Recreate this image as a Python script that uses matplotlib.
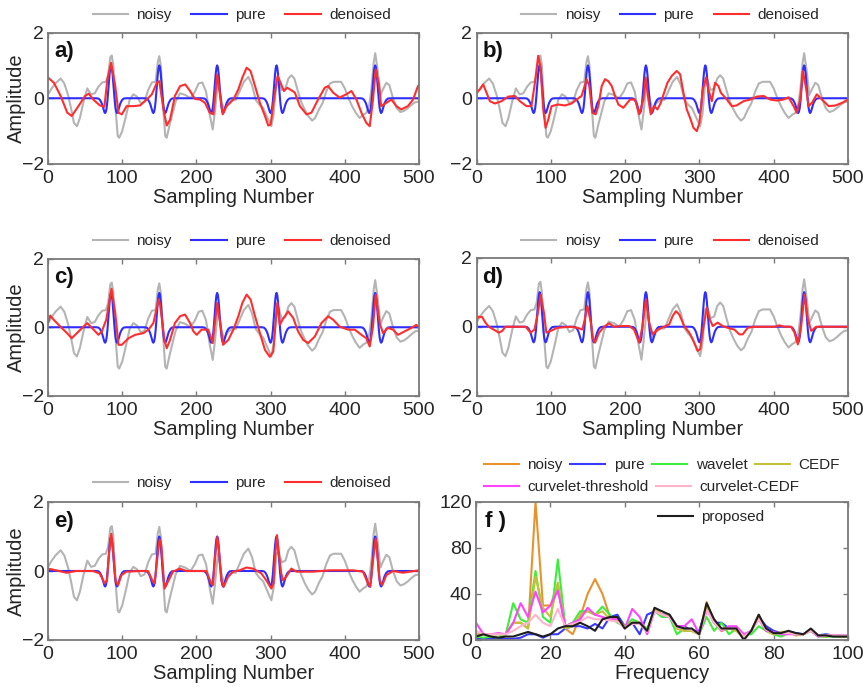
import matplotlib.pyplot as plt
import numpy as np

plt.rcParams['font.family'] = ['Liberation Sans', 'DejaVu Sans']

# ---- time-domain data (sample number, amplitude) ----
noisy = [(0, 0.12), (5, 0.3), (10, 0.45), (17, 0.6), (22, 0.45), (27, 0.1), (31, -0.3),
         (35, -0.75), (39, -0.85), (43, -0.6), (48, -0.1), (53, 0.3), (58, 0.12), (63, 0.15),
         (68, 0.35), (73, 0.48), (78, 0.5), (81, 0.7), (84, 1.25), (86, 1.3), (88, 1.0),
         (91, -0.3), (94, -1.15), (96, -1.2), (100, -1.0), (105, -0.55), (110, -0.05),
         (115, 0.12), (120, 0.05), (125, -0.15), (130, -0.1), (135, 0.25), (140, 0.48),
         (145, 0.5), (148, 1.1), (150, 1.28), (152, 1.0), (155, -0.2), (158, -1.15),
         (160, -1.2), (164, -0.8), (168, -0.45), (172, -0.1), (178, 0.15), (185, 0.1),
         (192, 0.0), (198, 0.2), (203, 0.45), (208, 0.48), (213, 0.2), (218, -0.5),
         (222, -0.95), (225, -0.4), (229, 0.5), (233, 0.0), (237, -0.35), (242, -0.15),
         (248, -0.05), (253, -0.05), (258, 0.2), (264, 0.5), (270, 0.65), (275, 0.4),
         (280, -0.05), (285, -0.2), (290, -0.3), (295, -0.55), (301, -0.85), (304, -0.5),
         (308, 0.5), (311, 0.55), (315, 0.25), (320, 0.3), (324, 0.6), (328, 0.7),
         (332, 0.6), (337, 0.2), (341, -0.1), (346, -0.35), (351, -0.55), (356, -0.68),
         (360, -0.6), (365, -0.35), (370, -0.15), (375, 0.2), (380, 0.45), (385, 0.5),
         (390, 0.5), (395, 0.5), (400, 0.3), (405, 0.0), (410, -0.25), (415, -0.45),
         (420, -0.6), (425, -0.5), (429, -0.45), (433, -0.2), (436, 0.3), (439, 1.1),
         (441, 1.37), (444, 0.9), (448, 0.1), (452, 0.3), (456, 0.47), (460, 0.4),
         (465, 0.0), (470, -0.3), (475, -0.42), (480, -0.38), (485, -0.3), (490, -0.2),
         (495, -0.12), (500, -0.1)]

# pure signal: five identical wavelets
wavelet_centers = [85, 150, 228, 308, 441]
wavelet_dx = [-20, -17, -15, -13, -12, -11, -10, -9, -8, -7, -6, -5, -4, -3, -2, -1, 0,
              1, 2, 3, 4, 5, 6, 7, 8, 9, 10, 11, 12, 13, 15, 17, 20]
wavelet_amp = [0, -0.01, -0.05, -0.13, -0.19, -0.27, -0.35, -0.42, -0.45, -0.41, -0.3,
               -0.1, 0.17, 0.46, 0.74, 0.93, 1.0, 0.93, 0.74, 0.46, 0.17, -0.1, -0.3,
               -0.41, -0.45, -0.42, -0.35, -0.27, -0.19, -0.13, -0.05, -0.01, 0]

den_a = [(0, 0.63), (8, 0.47), (17, 0.07), (26, -0.44), (32, -0.54), (41, -0.24), (50, 0.07),
         (55, 0.14), (61, -0.04), (70, -0.22), (76, -0.26), (80, 0.57), (85, 1.08),
         (90.6, 0.37), (95, -0.44), (99.5, -0.49), (106, -0.24), (115, -0.24), (124, -0.22),
         (133, -0.04), (140, 0.12), (146.6, 0.47), (150, 0.52), (155.6, -0.34), (160, -0.83),
         (164.5, -0.65), (171, 0.07), (178, 0.37), (185, 0.42), (191.5, 0.22), (198, -0.02),
         (205, -0.04), (211.6, -0.14), (218, -0.44), (222.9, -0.49), (228, 0.73),
         (232.7, -0.04), (235.4, -0.49), (240.8, -0.24), (249.8, -0.04), (256.5, 0.27),
         (262, 0.63), (267.7, 0.93), (273, 0.83), (279, 0.37), (285.6, -0.14), (292.4, -0.54),
         (296.8, -0.83), (300, -0.8), (304.5, -0.04), (309.4, 0.68), (313.4, 0.47),
         (318, 0.22), (322.4, 0.32), (329.6, 0.22), (332.7, 0.17), (339.5, -0.24),
         (348.4, -0.49), (355, -0.44), (364, -0.04), (373, 0.32), (377.5, 0.37),
         (384.3, 0.17), (393, 0.02), (402, 0.12), (409, 0.22), (415.7, -0.04), (422.4, -0.44),
         (429, -0.75), (433.6, -0.85), (438, -0.04), (441.7, 0.88), (446, 0.42), (449, -0.24),
         (456, -0.14), (462.8, -0.04), (469.5, -0.24), (476, -0.34), (485, -0.24),
         (492, -0.04), (498.6, 0.37), (500, 0.4)]

den_b = [(0, 0.17), (4.5, 0.27), (9, 0.42), (13.5, 0.17), (18, -0.09), (24.7, -0.16),
         (33.7, -0.09), (42.7, 0.05), (51.7, 0.07), (58.4, -0.09), (67.4, -0.24), (74, -0.24),
         (78.6, 0.47), (83, 1.29), (86, 0.98), (89.8, -0.34), (93, -0.9), (96.6, -0.65),
         (101, -0.24), (110, -0.19), (119, -0.22), (128, -0.16), (134.8, -0.04), (141.5, 0.07),
         (148.2, 0.58), (151.8, 0.37), (155.9, -0.44), (160.4, -0.49), (164, -0.24),
         (168.5, 0.37), (173, 0.58), (177.4, 0.52), (182, 0.37), (186.4, 0.07), (191, -0.19),
         (197.6, -0.29), (206.6, -0.04), (213.4, -0.04), (219, -0.49), (224.6, -0.04),
         (227.7, 0.63), (231.3, -0.04), (234.5, -0.49), (239, -0.24), (243.5, -0.34),
         (248, -0.14), (252.5, 0.17), (257, 0.47), (262.8, 0.68), (269.5, 0.83), (274, 0.73),
         (278.5, 0.17), (283, -0.34), (287.5, -0.6), (292, -0.9), (296.5, -1.0), (300, -0.75),
         (304.6, 0.27), (309, 0.63), (312, 0.27), (316.7, -0.09), (321, 0.47), (325.7, 0.37),
         (328.8, 0.17), (337, -0.04), (343.6, -0.24), (350, -0.22), (359.4, -0.09),
         (368.4, -0.04), (377.3, 0.05), (386.3, 0.07), (395.3, -0.04), (404.3, -0.07),
         (413, -0.04), (420, 0.03), (426.8, -0.24), (431, -0.44), (435.7, -0.04), (439.3, 0.83),
         (443.8, 0.27), (447, -0.24), (451.5, -0.14), (458, 0.12), (465, -0.04), (474, -0.24),
         (483, -0.22), (492, -0.14), (500, -0.04)]

den_c = [(0, 0.12), (3, 0.34), (7.6, 0.22), (16.6, 0.02), (25.6, -0.17), (32, -0.32),
         (39, -0.17), (48, 0.02), (53, 0.12), (61.4, -0.07), (68, -0.22), (72.6, -0.12),
         (78.5, 0.22), (85.6, 1.12), (90.6, 0.42), (95, -0.51), (99.5, -0.51), (108.5, -0.32),
         (117.5, -0.22), (128.7, -0.17), (135.4, -0.07), (142, 0.12), (149, 0.81), (151, 0.66),
         (157, -0.37), (160, -0.61), (164.5, -0.37), (171, 0.12), (178, 0.32), (184.7, 0.37),
         (191.5, 0.12), (196, -0.12), (200.4, -0.22), (207, -0.07), (216, -0.07), (222, -0.46),
         (228, 0.71), (232.7, 0.02), (236, -0.51), (243, -0.37), (249.8, -0.07), (256.5, 0.32),
         (262, 0.71), (267.7, 0.95), (273, 0.81), (279, 0.32), (285.6, -0.17), (292.4, -0.66),
         (299, -0.86), (303.6, -0.71), (309, 0.71), (312.5, 0.07), (316, 0.22), (323.7, 0.46),
         (330.5, 0.27), (337, -0.12), (344, -0.37), (350.6, -0.46), (359.6, -0.27),
         (368.5, 0.12), (377.5, 0.32), (384.3, 0.22), (393, 0.02), (404.5, -0.07),
         (413.4, -0.07), (422.4, -0.22), (429, -0.32), (433.6, -0.56), (438, 0.02),
         (441.7, 0.95), (447, 0.12), (451.5, -0.17), (458, -0.02), (465, -0.07),
         (471.7, -0.22), (480.7, -0.12), (489.7, -0.02), (496.4, 0.07), (500, -0.02)]

den_d = [(0, 0.21), (3, 0.29), (7.6, 0.28), (12, 0.12), (16.6, 0.0), (23, -0.08), (30, -0.17),
         (34.6, -0.12), (39, 0.0), (66, 0.0), (72.8, -0.17), (78, -0.08), (82.7, 0.4),
         (86.3, 0.93), (90.8, 0.4), (94, -0.17), (100, -0.12), (108.8, -0.03), (126.8, 0.0),
         (135.8, -0.03), (142.5, -0.08), (145.7, 0.21), (149.3, 0.6), (153.8, 0.12),
         (157, -0.36), (159.6, -0.46), (165, -0.17), (171.7, 0.0), (178.5, 0.1), (185, 0.0),
         (196.5, 0.02), (205.5, 0.02), (212, -0.08), (219, -0.46), (223.4, 0.02), (228, 0.79),
         (232.4, 0.12), (237, -0.22), (243.7, -0.08), (252.7, 0.0), (259.4, 0.07), (264, 0.31),
         (268.4, 0.45), (273, 0.35), (279.6, 0.02), (286.4, -0.17), (293, -0.46),
         (297.6, -0.7), (301, -0.65), (305.7, 0.02), (310, 0.55), (314, 0.21), (318, 0.02),
         (324.6, 0.12), (331.4, 0.02), (338, -0.03), (347, -0.08), (353.8, -0.22),
         (358.3, -0.22), (365, -0.03), (374, 0.0), (401, 0.0), (407.8, 0.04), (414.5, 0.0),
         (423.5, 0.0), (428, -0.17), (432.5, -0.51), (437, 0.02), (441.5, 0.93), (446, 0.21),
         (450.5, -0.12), (457, 0.0), (500, 0.0)]

den_e = [(0, 0.07), (11, 0.02), (24.7, -0.05), (38, 0.0), (60.6, 0.0), (69.6, -0.07),
         (76.4, -0.36), (79.5, -0.27), (82, 0.45), (85.3, 1.08), (88, 0.5), (91, -0.27),
         (94.3, -0.41), (99, -0.12), (105.6, -0.02), (123.5, 0.0), (134.8, 0.0), (140.6, -0.27),
         (143.7, -0.36), (147, 0.3), (150.5, 0.92), (152.7, 0.75), (157, -0.51), (161.7, -0.31),
         (168.4, -0.02), (177.4, 0.07), (186.4, 0.0), (213.4, 0.0), (220, -0.36),
         (222.3, -0.41), (225, 0.35), (228.2, 0.99), (231, 0.45), (233.6, -0.27),
         (236.7, -0.46), (242.6, -0.17), (249.3, -0.02), (258.3, 0.02), (267.3, 0.1),
         (276.3, 0.07), (287.5, -0.07), (294.2, -0.27), (301, -0.51), (304, -0.36),
         (306, 0.4), (308.6, 1.04), (311, 0.5), (314.4, -0.07), (316.7, -0.27), (321, -0.17),
         (328, 0.07), (334.7, -0.02), (357, -0.02), (379.6, 0.02), (411, 0.02), (424.5, -0.02),
         (431.2, -0.36), (434.4, -0.46), (438, 0.3), (441.6, 0.94), (444, 0.45), (447, -0.27),
         (450.5, -0.41), (456, -0.12), (465, 0.0), (478.4, -0.05), (500, 0.02)]

denoised = {'a)': den_a, 'b)': den_b, 'c)': den_c, 'd)': den_d, 'e)': den_e}

# ---- frequency-domain data (f = 0, 2, ..., 100) ----
freq = list(range(0, 101, 2))
spec_noisy = [5, 5, 5, 5, 5, 15, 15, 10, 120, 30, 30, 48, 10, 5, 20, 40, 53, 40, 20, 20, 12,
              15, 15, 8, 28, 22, 22, 10, 8, 8, 5, 33, 15, 8, 10, 8, 2, 8, 22, 8, 5, 7, 7, 4, 5,
              8, 4, 3, 4, 3, 3]
spec_pure = [1, 1, 1, 1, 1, 1, 2, 5, 5, 2, 5, 5, 10, 12, 12, 10, 14, 10, 20, 22, 12, 15, 5,
             22, 25, 22, 22, 12, 12, 8, 8, 28, 15, 15, 10, 10, 2, 8, 20, 12, 8, 6, 7, 6, 5, 9,
             4, 5, 4, 4, 4]
spec_wavelet = [3, 2, 3, 2, 5, 32, 18, 15, 60, 20, 15, 70, 12, 15, 25, 25, 22, 29, 22, 15,
                12, 18, 15, 10, 25, 20, 20, 5, 10, 8, 5, 20, 8, 15, 5, 10, 5, 5, 12, 8, 5, 3,
                6, 5, 5, 8, 3, 3, 3, 3, 3]
spec_cedf = [5, 5, 5, 5, 5, 15, 15, 10, 55, 28, 20, 50, 10, 12, 22, 25, 22, 25, 18, 18, 12,
             15, 15, 8, 27, 22, 22, 10, 8, 8, 5, 30, 15, 8, 10, 8, 2, 8, 20, 8, 5, 7, 7, 4, 5,
             8, 4, 3, 4, 3, 3]
spec_ct = [15, 5, 5, 6, 5, 15, 32, 20, 42, 24, 30, 43, 12, 15, 18, 28, 22, 20, 18, 18, 10,
           27, 20, 5, 25, 22, 20, 12, 12, 18, 5, 25, 18, 8, 12, 12, 5, 8, 18, 8, 7, 5, 5, 5, 5,
           8, 3, 4, 4, 4, 4]
spec_cc = [8, 5, 5, 5, 5, 8, 12, 15, 22, 15, 12, 27, 12, 14, 16, 20, 18, 18, 17, 16, 11, 14,
           14, 7, 25, 22, 20, 11, 10, 9, 5, 26, 15, 9, 10, 10, 3, 8, 18, 9, 6, 6, 6, 5, 5, 8,
           4, 4, 4, 4, 4]
spec_prop = [3, 5, 3, 2, 3, 3, 5, 7, 5, 3, 5, 10, 12, 12, 15, 12, 8, 18, 20, 20, 10, 15, 15,
             8, 28, 25, 22, 12, 10, 10, 5, 32, 18, 10, 10, 10, 0, 8, 22, 10, 6, 6, 8, 6, 5, 10,
             4, 4, 3, 3, 3]

GRAY, BLUE, RED = '#b4b4b4', '#2e2eff', '#ff2e2e'
TXT = '#262626'

fig = plt.figure(figsize=(8.63, 6.87), dpi=100)
W, H = 863.0, 687.0


def add_axes_px(l, t, r, b):
    return fig.add_axes([l / W, 1 - b / H, (r - l) / W, (b - t) / H])


def style(ax):
    for s in ax.spines.values():
        s.set_color('#7a7a7a')
        s.set_linewidth(1.3)
    ax.tick_params(direction='in', top=True, right=True, length=3.5, width=1,
                   color='#7a7a7a', labelsize=14, labelcolor=TXT)
    ax.tick_params(axis='x', pad=4)
    ax.tick_params(axis='y', pad=3)


boxes = {'a)': (48, 32.5, 419, 164), 'b)': (476.5, 32.5, 848, 164),
         'c)': (48, 258.5, 419, 396), 'd)': (476.5, 257.5, 848, 396),
         'e)': (48, 502, 419, 640)}
leg_y = {'a)': 15, 'b)': 15, 'c)': 241, 'd)': 241, 'e)': 483}

wx = np.array(wavelet_dx)
pure_x = np.concatenate([[0]] + [c + wx for c in wavelet_centers] + [[500]])
pure_y = np.concatenate([[0]] + [np.array(wavelet_amp) for _ in wavelet_centers] + [[0]])
nz = np.array(noisy)

for key, box in boxes.items():
    ax = add_axes_px(*box)
    d = np.array(denoised[key])
    ax.plot(nz[:, 0], nz[:, 1], color=GRAY, lw=1.5, label='noisy')
    ax.plot(pure_x, pure_y, color=BLUE, lw=1.5, label='pure')
    ax.plot(d[:, 0], d[:, 1], color=RED, lw=1.5, label='denoised')
    ax.set_xlim(0, 500)
    ax.set_ylim(-2, 2)
    ax.set_xticks([0, 100, 200, 300, 400, 500])
    ax.set_yticks([-2, 0, 2])
    style(ax)
    ax.set_xlabel('Sampling Number', fontsize=14.5, color=TXT, labelpad=1)
    if key in ('a)', 'c)', 'e)'):
        ax.set_ylabel('Amplitude', fontsize=14.5, color=TXT)
        ax.yaxis.set_label_coords(-(box[0] - 26) / (box[2] - box[0]), 0.5)
    ax.text(6 / (box[2] - box[0]), 1 - 9 / (box[3] - box[1]), key, transform=ax.transAxes,
            ha='left', va='top', fontsize=16, fontweight='bold', color='#111111')
    ax.legend(loc='center left', bbox_to_anchor=((box[0] + 37) / W, 1 - leg_y[key] / H),
              bbox_transform=fig.transFigure, ncol=3, frameon=False, fontsize=11,
              handlelength=2.3, handletextpad=0.55, columnspacing=1.3, borderpad=0,
              labelcolor=TXT)

# ---- panel f ----
axf = add_axes_px(476, 502, 848, 640)
lines = {}
for name, vals, col in [('noisy', spec_noisy, '#e8922e'), ('pure', spec_pure, '#3a3aff'),
                        ('wavelet', spec_wavelet, '#3cee3c'), ('CEDF', spec_cedf, '#c2c23a'),
                        ('curvelet-threshold', spec_ct, '#ff44ff'),
                        ('curvelet-CEDF', spec_cc, '#ffb4cc'), ('proposed', spec_prop, '#1e1e1e')]:
    lines[name], = axf.plot(freq, vals, color=col, lw=1.5, label=name)
axf.set_xlim(0, 100)
axf.set_ylim(0, 120)
axf.set_xticks([0, 20, 40, 60, 80, 100])
axf.set_yticks([0, 40, 80, 120])
style(axf)
axf.set_xlabel('Frequency', fontsize=14.5, color=TXT, labelpad=1)
axf.text(9 / 372, 1 - 9 / 138, 'f )', transform=axf.transAxes, ha='left', va='top',
         fontsize=16, fontweight='bold', color='#111111')

legkw = dict(loc='center left', bbox_transform=fig.transFigure, frameon=False, fontsize=11,
             handlelength=2.3, handletextpad=0.55, borderpad=0, labelcolor=TXT)
l1 = axf.legend([lines[k] for k in ['noisy', 'pure', 'wavelet', 'CEDF']],
                ['noisy', 'pure', 'wavelet', 'CEDF'], ncol=4, columnspacing=0.5,
                bbox_to_anchor=(476 / W, 1 - 465 / H), **legkw)
axf.add_artist(l1)
l2 = axf.legend([lines[k] for k in ['curvelet-threshold', 'curvelet-CEDF']],
                ['curvelet-threshold', 'curvelet-CEDF'], ncol=2, columnspacing=0.5,
                bbox_to_anchor=(476 / W, 1 - 487 / H), **legkw)
axf.add_artist(l2)
axf.legend([lines['proposed']], ['proposed'], bbox_to_anchor=(650 / W, 1 - 517 / H), **legkw)

fig.savefig('out.png', dpi=100)
